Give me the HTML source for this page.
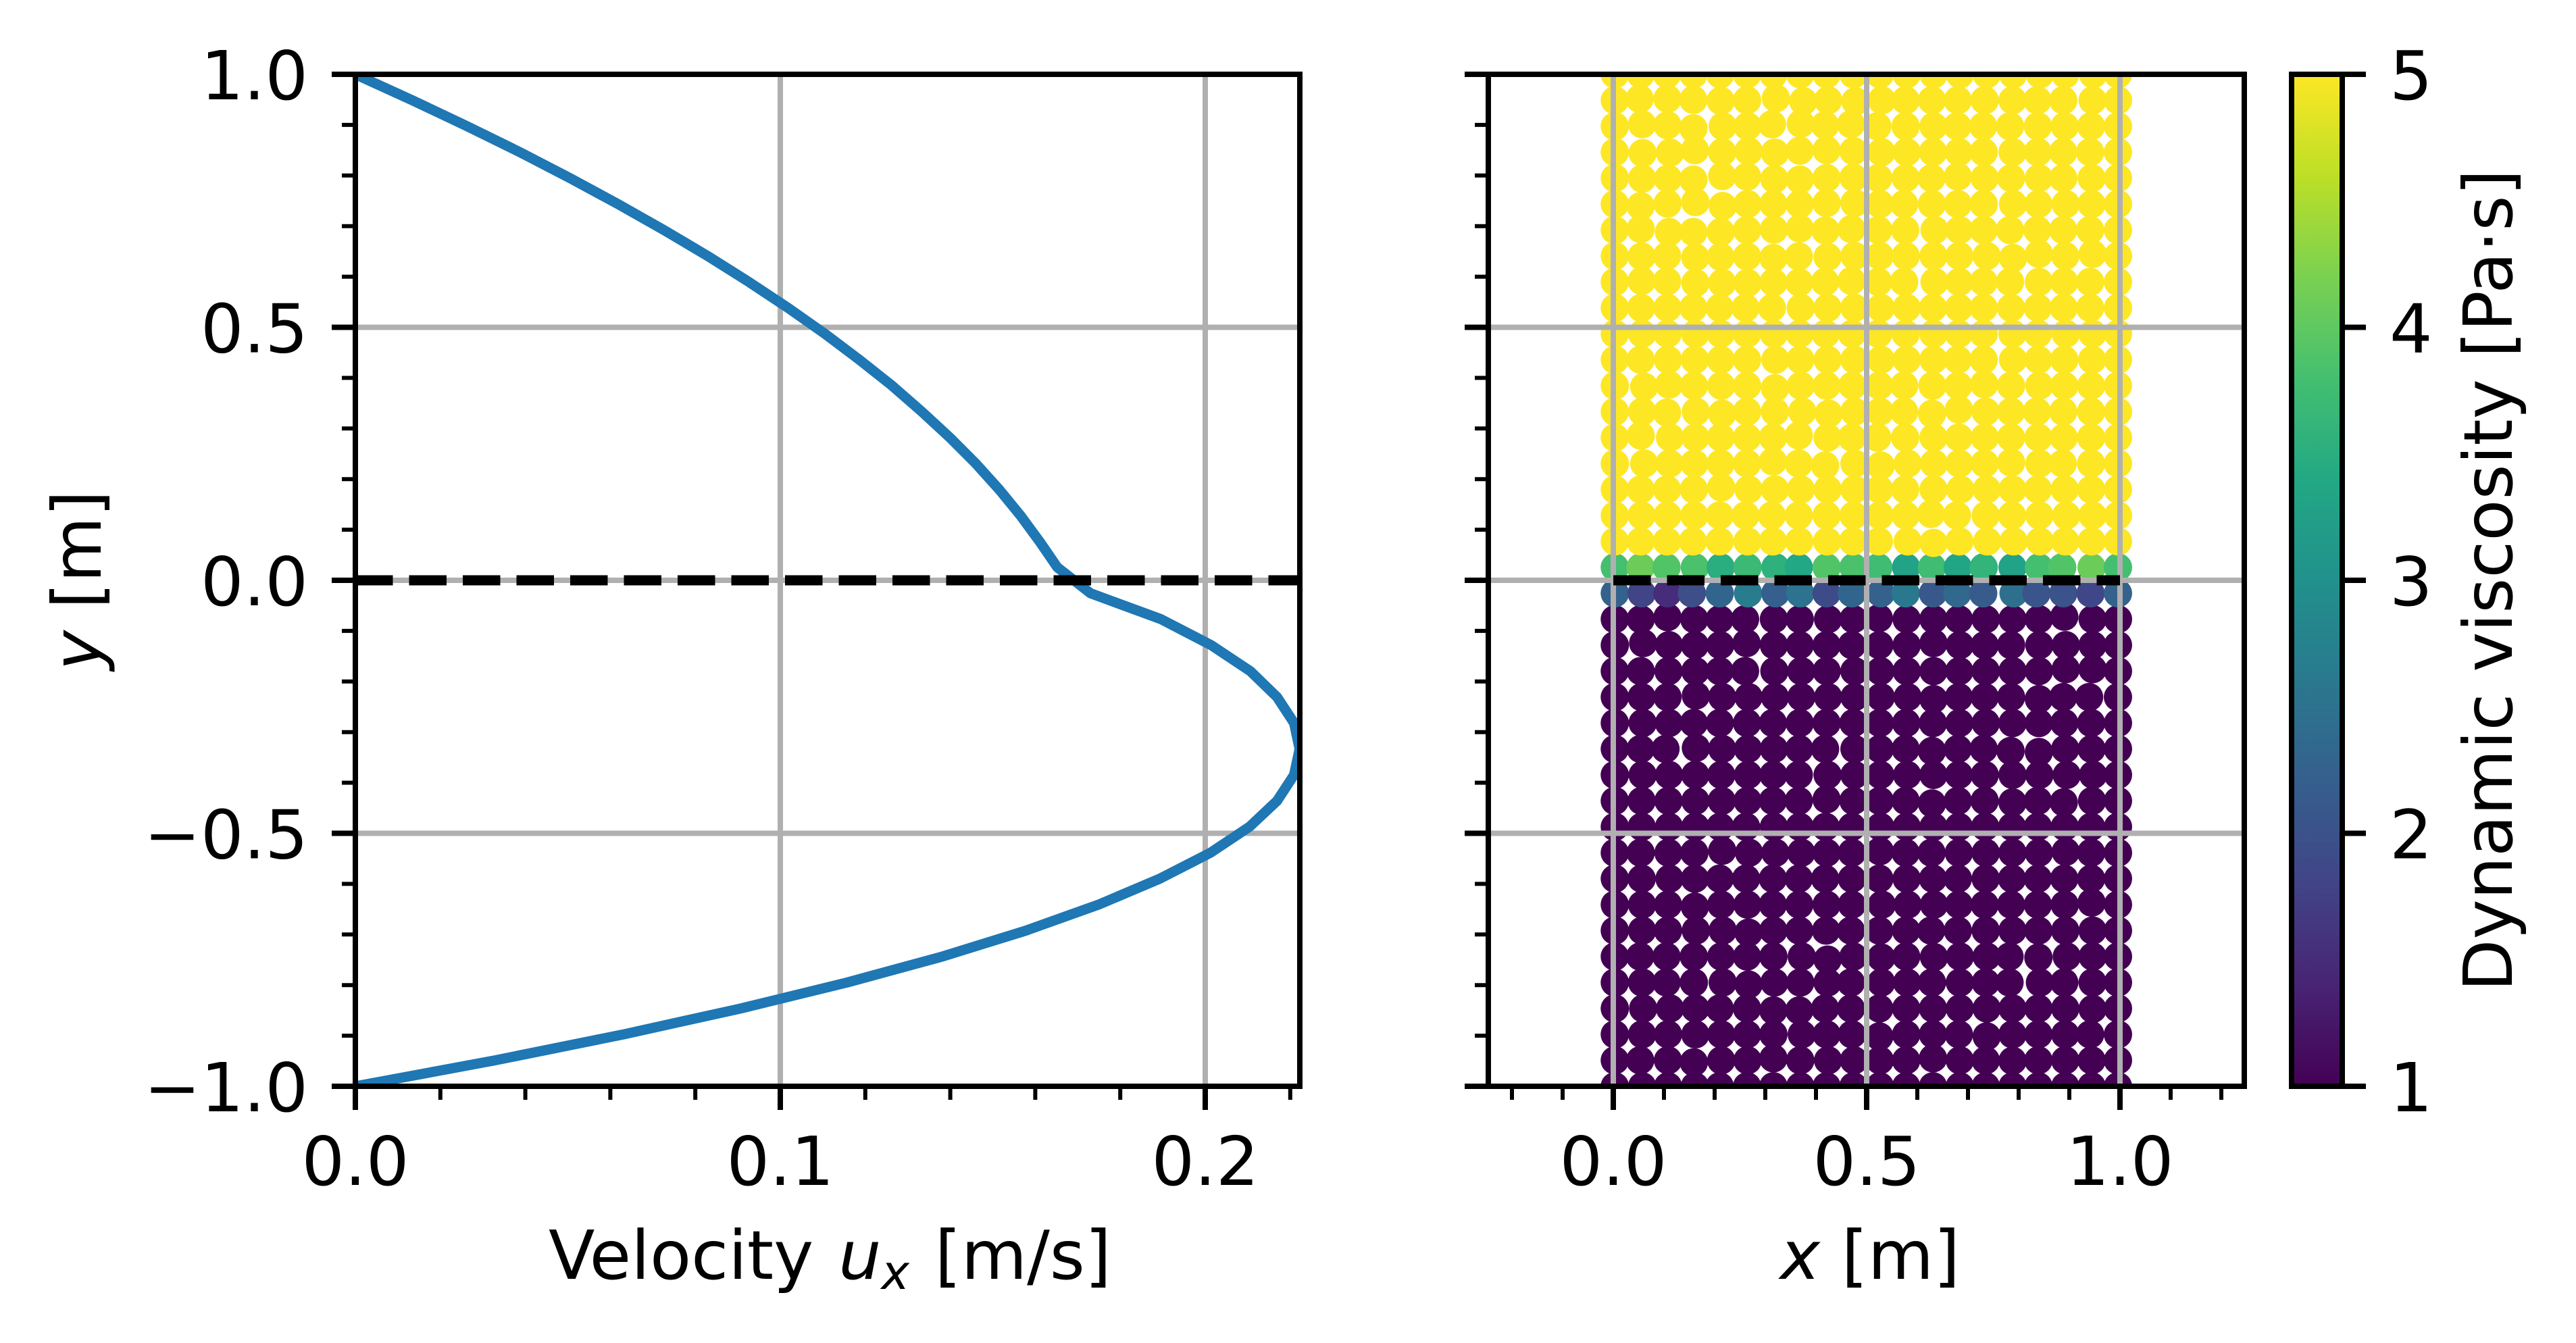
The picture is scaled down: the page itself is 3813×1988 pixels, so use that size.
<!DOCTYPE html>
<html lang="en">
<head>
<meta charset="utf-8">
<title>Two-layer channel flow: velocity profile and particle viscosity</title>
<style>
  html, body { margin: 0; padding: 0; background: #fff; overflow: hidden; }
  svg { display: block; }
  text { font-family: "DejaVu Sans", "Liberation Sans", sans-serif; font-size: 100px; fill: #000; }
</style>
</head>
<body>
<svg id="figure" xmlns="http://www.w3.org/2000/svg" width="3813" height="1988" viewBox="0 0 3813 1988">
  <defs>
    <clipPath id="clip-left"><rect x="526" y="110" width="1398" height="1498"/></clipPath>
    <clipPath id="clip-right"><rect x="2203" y="110" width="1119" height="1498"/></clipPath>
    <linearGradient id="viridis-gradient" x1="0" y1="1" x2="0" y2="0"></linearGradient>
  </defs>
  <rect x="0" y="0" width="3813" height="1988" fill="#ffffff"/>
  <g id="scatter-layer" clip-path="url(#clip-right)"></g>
  <g id="grid-layer"></g>
  <g id="left-lines" clip-path="url(#clip-left)"></g>
  <g id="right-lines" clip-path="url(#clip-right)"></g>
  <g id="tick-layer"></g>
  <rect x="526" y="110" width="1398" height="1498" fill="none" stroke="#000" stroke-width="8"/>
  <rect x="2203" y="110" width="1119" height="1498" fill="none" stroke="#000" stroke-width="8"/>
  <rect x="3392" y="110" width="75" height="1498" fill="url(#viridis-gradient)" stroke="#000" stroke-width="8"/>
  <text x="812" y="1893">Velocity <tspan font-style="oblique" dx="5">u</tspan><tspan font-style="oblique" font-size="70" dy="15">x</tspan><tspan dy="-15" dx="6"> [m/s]</tspan></text>
  <text x="2768" y="1893" text-anchor="middle"><tspan font-style="oblique">x</tspan> [m]</text>
  <text transform="translate(149 859) rotate(-90)" text-anchor="middle"><tspan font-style="oblique">y</tspan> [m]</text>
  <text transform="translate(3718 859) rotate(-90)" text-anchor="middle">Dynamic viscosity [Pa·s]</text>
</svg>
<script>
// ---- Velocity profile (left panel) ----
const yRows = [1,0.9487,0.8974,0.8462,0.7949,0.7436,0.6923,0.641,0.5897,0.5385,0.4872,0.4359,0.3846,0.3333,0.2821,0.2308,0.1795,0.1282,0.0769,0.0256,-0.0256,-0.0769,-0.1282,-0.1795,-0.2308,-0.2821,-0.3333,-0.3846,-0.4359,-0.4872,-0.5385,-0.5897,-0.641,-0.6923,-0.7436,-0.7949,-0.8462,-0.8974,-0.9487,-1];
const velocity = [0,0.0134,0.0263,0.0387,0.0505,0.0618,0.0726,0.0829,0.0926,0.1018,0.1105,0.1186,0.1263,0.1333,0.1399,0.146,0.1515,0.1565,0.161,0.1652,0.173,0.1896,0.2014,0.2106,0.2169,0.2209,0.2222,0.2209,0.2169,0.2104,0.2012,0.1893,0.1749,0.1578,0.1381,0.1157,0.0907,0.0631,0.0329,0];
const interfaceY = [0, 0];
const velocityInterfaceX = [0, 0.2223];
const particleInterfaceX = [0, 1];

// ---- Particle x positions in millimetres, one row per yRows entry ----
const particleXmm = [
[3,54,106,158,211,264,316,369,421,474,526,579,632,684,737,789,842,892,947,996],
[3,52,107,158,212,264,321,375,424,478,530,577,629,680,733,788,837,888,946,996],
[3,57,107,158,216,265,313,370,418,469,521,577,632,679,730,783,838,891,943,996],
[3,58,112,161,215,267,319,368,421,474,529,579,631,682,731,788,838,888,941,996],
[3,57,108,158,215,264,318,368,421,474,523,577,628,680,733,785,840,888,944,996],
[3,54,107,162,216,265,316,368,421,476,526,574,629,680,731,789,839,893,944,996],
[3,54,110,158,212,264,317,368,419,470,523,576,634,683,731,783,837,888,941,996],
[3,56,106,162,212,264,316,366,423,476,526,577,632,683,737,789,840,892,946,996],
[3,56,106,162,215,265,316,367,418,470,523,574,634,683,731,783,840,890,941,996],
[3,55,107,158,210,261,313,370,423,476,528,579,631,682,731,785,838,889,941,996],
[3,57,107,162,212,264,317,368,419,471,523,577,632,682,731,788,838,893,946,996],
[3,54,108,161,212,264,320,369,423,476,528,579,632,680,731,789,839,890,945,996],
[3,61,110,159,213,264,319,370,421,472,525,574,630,681,732,785,841,890,943,996],
[3,57,106,163,215,264,319,373,425,476,526,574,629,682,735,785,836,888,943,996],
[3,54,112,162,212,264,315,366,423,471,521,576,632,682,733,785,839,889,943,996],
[3,61,111,160,212,264,315,366,418,476,528,581,633,683,733,785,841,887,943,996],
[3,54,106,159,213,267,319,370,423,476,525,576,632,685,737,788,838,891,943,996],
[3,56,107,160,210,261,313,366,421,474,526,577,627,678,735,787,841,894,946,996],
[3,54,106,157,210,265,315,367,422,473,524,581,632,683,738,790,842,892,944,996],
[3,54,105,161,212,265,320,366,421,474,523,578,629,680,731,788,840,886,944,996],
[3,56,107,155,210,266,320,369,421,471,528,577,631,679,730,790,835,888,942,996],
[3,54,107,160,210,260,317,368,424,474,524,579,632,682,735,788,840,890,946,996],
[3,59,110,161,211,263,317,368,421,471,525,579,632,684,733,785,841,893,946,996],
[3,54,109,162,210,260,318,371,421,476,527,579,632,683,735,788,840,893,946,996],
[3,56,107,163,215,267,319,371,424,476,528,581,632,682,733,785,840,888,939,996],
[3,58,110,159,210,264,315,368,421,474,526,578,631,683,735,788,840,890,943,996],
[3,54,103,163,215,266,317,367,418,476,526,577,629,680,731,784,840,892,944,996],
[3,58,110,162,213,266,316,366,423,476,527,580,632,682,733,788,841,895,947,996],
[3,56,109,162,214,265,315,366,421,474,526,577,629,680,733,788,838,889,945,996],
[3,56,110,162,211,262,317,368,419,471,527,579,632,682,734,787,838,891,943,996],
[3,54,109,160,215,268,320,371,421,471,526,577,628,682,735,788,840,893,943,996],
[3,56,111,161,210,262,315,366,418,471,525,579,631,680,735,787,838,890,943,996],
[3,57,108,161,213,265,315,367,421,471,530,581,633,682,733,785,838,891,944,996],
[3,57,108,163,216,267,316,367,420,469,525,578,627,680,735,788,839,892,946,996],
[3,53,105,159,213,264,316,372,423,474,529,578,633,684,737,782,839,895,946,996],
[3,57,105,159,216,267,318,369,423,469,529,580,629,684,735,782,842,890,946,996],
[3,59,112,162,210,264,316,367,418,469,525,578,631,684,737,788,839,892,946,996],
[3,57,108,162,213,264,316,372,421,471,525,578,631,682,737,788,839,892,941,996],
[3,53,108,159,213,265,316,369,424,475,526,578,631,684,735,788,839,892,944,996],
[3,57,108,161,210,264,316,369,421,474,526,578,631,684,735,788,839,892,944,996]
];
// Individual particles visibly displaced from their row: row, column, shift in mm
const particleShiftsMm = [
[1,1,3],[1,2,3],[1,3,1],[1,4,-1],[1,6,4],[1,7,-2],[1,9,-2],
[2,1,4],[2,2,2],[2,3,-4],[2,6,4],[2,7,5],[2,8,2],[2,9,4],
[3,1,-2],[3,2,-1],[3,3,4],[3,5,2],[3,6,-1],[3,7,3],[3,8,4],[3,9,2],
[4,1,-1],[4,2,-1],[4,3,-3],[4,4,4],[4,5,3],[4,6,-2],[4,7,-3],[4,9,1],[4,13,3],
[5,1,-4],[5,2,1],[5,3,4],[5,4,-4],[5,8,2],[5,9,2],
[6,1,2],[6,2,-4],[6,3,-4],[6,4,-4],[6,6,1],[6,7,3],[6,8,-1],[6,9,2],
[7,1,-1],[7,3,-3],[7,4,-2],[7,5,-1],[7,6,-4],[7,7,-1],[7,8,-2],[7,15,-4],[7,16,4],[7,18,4],
[8,1,2],[8,2,1],[8,3,-2],[8,4,-2],[8,5,-2],[8,6,-1],[8,7,-1],[8,9,2],
[12,1,-2],[12,2,2],[12,6,-5],[12,14,3],[13,2,-2],[13,4,-4],[13,8,-4],[13,12,-4],[13,13,4],
[14,1,4],[14,7,4],[15,6,4],[15,8,-4],[15,10,-4],[15,15,2],[16,4,4],[17,12,3],[18,12,-3],
[21,2,4],[21,10,2],[21,17,5],[22,1,4],[22,5,4],[22,12,4],[23,17,4],[23,18,4],[24,3,3],[24,12,-4],[24,16,-4],
[26,3,2],[26,12,-4],[26,15,-4],[26,16,-6],[28,8,3],[28,12,-5],[28,15,-3],[28,17,-3],[30,4,4],[30,10,3],[30,17,2],
[32,3,-4],[32,18,4],[33,5,-4],[34,8,-6],[34,10,-2],[34,12,-1],[34,16,-2],[35,5,-4],[36,6,-4],[36,7,-4],[36,18,-1],
[37,10,-4],[37,14,-4],[38,3,-4],[38,6,4],[38,12,4],[38,15,-1]
];

// ---- Viscosity per particle ----
const upperViscosity = 5;
const lowerViscosity = 1;
const interfaceUpperViscosity = [3.8,4.1,3.9,3.85,3.5,3.7,3.55,3.4,3.9,3.85,3.75,3.3,3.75,3.35,3.6,3.3,3.8,3.9,4.1,3.8];
const interfaceLowerViscosity = [2.25,1.8,1.5,1.95,2.3,2.65,2.2,2.5,1.9,2.3,2.25,2.6,2.1,2.35,2.15,2.45,2.05,2.0,1.85,2.25];
const interfaceUpperRow = 19;
const interfaceLowerRow = 20;

// ---- Colormap ----
const viridisStops = ['#440154','#482475','#414487','#355f8d','#2a788e','#21918c','#22a884','#44bf70','#7ad151','#bddf26','#fde725'];

// ---- Ticks ----
const yMajorTicks = [-1,-0.5,0,0.5,1];
const yMajorLabels = ['\u22121.0','\u22120.5','0.0','0.5','1.0'];
const yMinorTicks = [-0.9,-0.8,-0.7,-0.6,-0.4,-0.3,-0.2,-0.1,0.1,0.2,0.3,0.4,0.6,0.7,0.8,0.9];
const uMajorTicks = [0,0.1,0.2];
const uMajorLabels = ['0.0','0.1','0.2'];
const uMinorTicks = [0.02,0.04,0.06,0.08,0.12,0.14,0.16,0.18,0.22];
const xMajorTicks = [0,0.5,1];
const xMajorLabels = ['0.0','0.5','1.0'];
const xMinorTicks = [-0.2,-0.1,0.1,0.2,0.3,0.4,0.6,0.7,0.8,0.9,1.1,1.2];
const colorbarTicks = [1,2,3,4,5];
const colorbarLabels = ['1','2','3','4','5'];

// ---- Axis functions ----
function yAxis(y) { return 859 - y * 749; }
function uAxis(u) { return 526 + u * 6290; }
function xAxis(x) { return 2388 + x * 750; }
function colorbarAxis(v) { return 1608 - (v - 1) * 374.5; }

const NS = 'http://www.w3.org/2000/svg';
function mk(tag, attrs, parent) {
  const el = document.createElementNS(NS, tag);
  for (const k in attrs) el.setAttribute(k, attrs[k]);
  parent.appendChild(el);
  return el;
}
function viridis(v) {
  const t = Math.min(1, Math.max(0, (v - 1) / 4)) * (viridisStops.length - 1);
  const i = Math.min(viridisStops.length - 2, Math.floor(t));
  const f = t - i;
  const a = viridisStops[i], b = viridisStops[i + 1];
  const ch = function (s, p) { return parseInt(s.substr(p, 2), 16); };
  const c = [1, 3, 5].map(function (p) { return Math.round(ch(a, p) + (ch(b, p) - ch(a, p)) * f); });
  return 'rgb(' + c.join(',') + ')';
}

const gradient = document.getElementById('viridis-gradient');
viridisStops.forEach(function (c, i) {
  mk('stop', { offset: i / (viridisStops.length - 1), 'stop-color': c }, gradient);
});

// Scatter: bottom rows first so upper rows overlap them
const scatter = document.getElementById('scatter-layer');
for (let r = particleXmm.length - 1; r >= 0; r--) {
  for (let c = 0; c < particleXmm[r].length; c++) {
    let visc = r < interfaceUpperRow ? upperViscosity : lowerViscosity;
    if (r === interfaceUpperRow) visc = interfaceUpperViscosity[c];
    if (r === interfaceLowerRow) visc = interfaceLowerViscosity[c];
    const shift = particleShiftsMm.find(function (s) { return s[0] === r && s[1] === c; });
    const yVal = yRows[r] + (shift ? shift[2] / 1000 : 0);
    const dot = mk('circle', { cx: xAxis(particleXmm[r][c] / 1000), cy: yAxis(yVal), r: 21, fill: viridis(visc) }, scatter);
    
    
  }
}

// Grid
const gridLayer = document.getElementById('grid-layer');
function gridLine(x1, y1, x2, y2, name) {
  const g = mk('line', { x1: x1, y1: y1, x2: x2, y2: y2, stroke: '#b0b0b0', 'stroke-width': 8 }, gridLayer);
  
  
}
yMajorTicks.forEach(function (y) {
  gridLine(526, yAxis(y), 1924, yAxis(y), 'velocity-plot-h-grid');
  gridLine(2203, yAxis(y), 3322, yAxis(y), 'particle-plot-h-grid');
});
uMajorTicks.forEach(function (u) { gridLine(uAxis(u), 110, uAxis(u), 1608, 'velocity-plot-v-grid'); });
xMajorTicks.forEach(function (x) { gridLine(xAxis(x), 110, xAxis(x), 1608, 'particle-plot-v-grid'); });

// Lines
const leftLines = document.getElementById('left-lines');
const profilePts = velocity.map(function (u, i) { return uAxis(u) + ',' + yAxis(yRows[i]); }).join(' ');
const profile = mk('polyline', { points: profilePts, fill: 'none', stroke: '#1f77b4', 'stroke-width': 15, 'stroke-linejoin': 'round', 'stroke-linecap': 'square' }, leftLines);


const dashLeft = mk('line', { x1: uAxis(velocityInterfaceX[0]), y1: yAxis(interfaceY[0]), x2: uAxis(velocityInterfaceX[1]), y2: yAxis(interfaceY[1]), stroke: '#000', 'stroke-width': 15, 'stroke-dasharray': '55.5 24' }, leftLines);


const rightLines = document.getElementById('right-lines');
const dashRight = mk('line', { x1: xAxis(particleInterfaceX[0]), y1: yAxis(interfaceY[0]), x2: xAxis(particleInterfaceX[1]), y2: yAxis(interfaceY[1]), stroke: '#000', 'stroke-width': 15, 'stroke-dasharray': '55.5 24' }, rightLines);



// Ticks and tick labels
const ticks = document.getElementById('tick-layer');
function tickMark(x1, y1, x2, y2, w, name) {
  const t = mk('line', { x1: x1, y1: y1, x2: x2, y2: y2, stroke: '#000', 'stroke-width': w }, ticks);
  
  
}
function tickText(str, x, y, anchor, name) {
  const t = mk('text', { x: x, y: y, 'text-anchor': anchor }, ticks);
  t.textContent = str;
  
  
}
yMajorTicks.forEach(function (y, i) {
  tickMark(526, yAxis(y), 491, yAxis(y), 8, 'velocity-plot-y-tick');
  tickMark(2203, yAxis(y), 2168, yAxis(y), 8, 'particle-plot-y-tick');
  tickText(yMajorLabels[i], 456, yAxis(y) + 37, 'end', 'y-tick-label');
});
yMinorTicks.forEach(function (y) {
  tickMark(526, yAxis(y), 506, yAxis(y), 6, 'velocity-plot-y-minor-tick');
  tickMark(2203, yAxis(y), 2183, yAxis(y), 6, 'particle-plot-y-minor-tick');
});
uMajorTicks.forEach(function (u, i) {
  tickMark(uAxis(u), 1608, uAxis(u), 1643, 8, 'velocity-x-tick');
  tickText(uMajorLabels[i], uAxis(u), 1754, 'middle', 'velocity-x-tick-label');
});
uMinorTicks.forEach(function (u) { tickMark(uAxis(u), 1608, uAxis(u), 1628, 6, 'velocity-x-minor-tick'); });
xMajorTicks.forEach(function (x, i) {
  tickMark(xAxis(x), 1608, xAxis(x), 1643, 8, 'particle-x-tick');
  tickText(xMajorLabels[i], xAxis(x), 1754, 'middle', 'particle-x-tick-label');
});
xMinorTicks.forEach(function (x) { tickMark(xAxis(x), 1608, xAxis(x), 1628, 6, 'particle-x-minor-tick'); });
colorbarTicks.forEach(function (v, i) {
  tickMark(3467, colorbarAxis(v), 3502, colorbarAxis(v), 8, 'colorbar-tick');
  tickText(colorbarLabels[i], 3537, colorbarAxis(v) + 37, 'start', 'colorbar-tick-label');
});
</script>
</body>
</html>
